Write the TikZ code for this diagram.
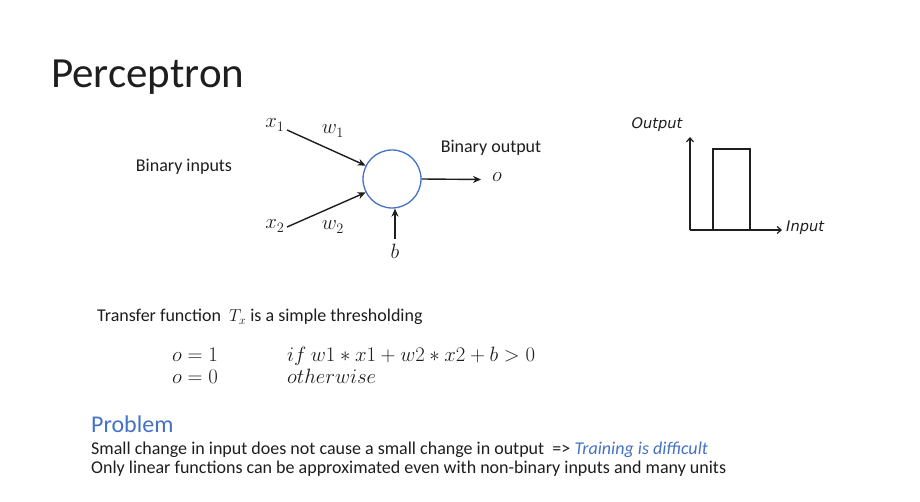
\documentclass[tikz,border=0pt]{standalone}
\usepackage{fontspec}
\setmainfont{Carlito}
\newfontfamily\graphfont{DejaVu Sans}
\usetikzlibrary{arrows.meta}
\definecolor{accent}{RGB}{68,114,196}
\definecolor{ink}{RGB}{30,30,30}
\begin{document}
\begin{tikzpicture}[x=1pt,y=-1pt,
  txt/.style={inner sep=0pt,font=\fontsize{18}{21}\selectfont,text=ink},
  mth/.style={inner sep=0pt,font=\fontsize{20}{24}\selectfont,text=ink},
  gtxt/.style={inner sep=0pt,font=\graphfont\itshape\fontsize{14.6}{17}\selectfont,text=ink},
  arr/.style={draw=ink,line width=1.4pt,-{Stealth[length=8pt,width=7pt]}},
  axis/.style={draw=ink,line width=1.2pt,-{Straight Barb[length=4pt,width=7pt]}}]
\useasboundingbox (0,0) rectangle (920,502);
\fill[white] (0,0) rectangle (920,502);
% title
\node[txt,anchor=base west,font=\fontsize{43}{50}\selectfont] (title) at (51,88) {Perceptron};
% neuron
\node[txt] (inputs) at (184,167) {Binary inputs};
\node[draw=accent,line width=1.3pt,circle,minimum size=58pt,inner sep=0pt] (neuron) at (392,179) {};
\node[mth] (x1) at (275,125) {$x_1$};
\node[mth] (x2) at (275,226) {$x_2$};
\node[mth] (w1) at (333,131) {$w_1$};
\node[mth] (w2) at (333,227) {$w_2$};
\coordinate (x1s) at (287,130);
\coordinate (x2s) at (287,227);
\draw[arr] (x1s) -- (neuron.153);
\draw[arr] (x2s) -- (neuron.207);
\node[mth] (o) at (497,177) {$o$};
\node[txt] (outlabel) at (491,148) {Binary output};
\coordinate (oe) at (481,179.5);
\draw[arr] (neuron.east) -- (oe);
\node[mth] (b) at (395,251) {$b$};
\coordinate (bs) at (395,239);
\draw[arr] (bs) -- (neuron.south -| bs);
% graph
\coordinate (origin) at (690,230);
\coordinate (ytop) at (690,137);
\coordinate (xend) at (782,230);
\draw[axis] (origin) -- (ytop);
\draw[axis] (origin) -- (xend);
\draw[ink,line width=1.2pt] (713,230) -- (713,149) -- (750,149) -- (750,230);
\node[gtxt] (outp) at (657,125) {Output};
\node[gtxt,anchor=west] (inp) at (786,228) {Input};
% transfer function
\node[txt,anchor=base west] (transfer) at (97,322) {Transfer function\ \ $T_x$ is a simple thresholding};
\node[mth,anchor=base west] (e1) at (172,361) {$o=1$};
\node[mth,anchor=base west] (e2) at (172,383) {$o=0$};
\node[mth,anchor=base west] (c1) at (287,361) {$if\ w1*x1+w2*x2+b>0$};
\node[mth,anchor=base west] (c2) at (287,383) {$otherwise$};
% problem
\node[txt,anchor=base west,text=accent,font=\fontsize{24}{28}\selectfont] (prob) at (91,432) {Problem};
\node[txt,anchor=base west] (l1) at (91,454.5) {Small change in input does not cause a small change in output\ \ => \textcolor{accent}{\itshape Training is difficult}};
\node[txt,anchor=base west] (l2) at (91,473.5) {Only linear functions can be approximated even with non-binary inputs and many units};
\end{tikzpicture}
\end{document}
